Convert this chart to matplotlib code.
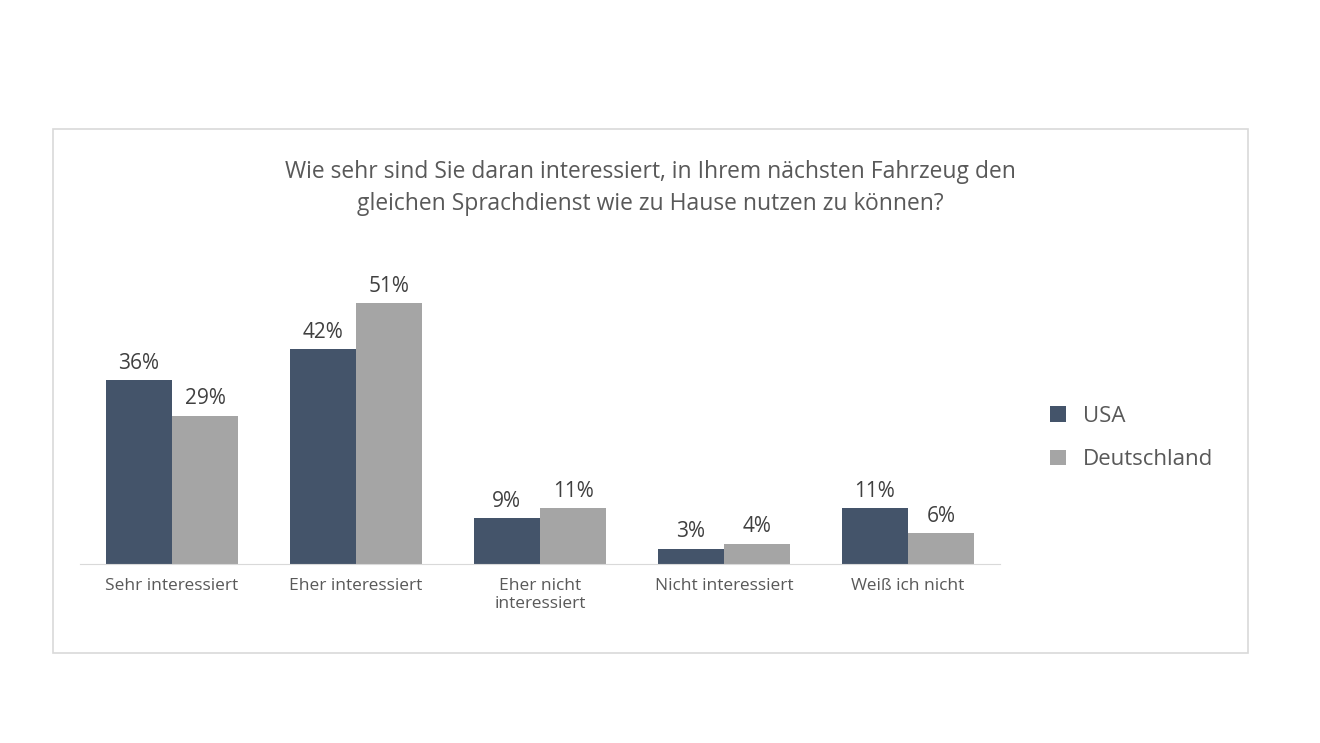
import matplotlib
matplotlib.use("Agg")
import matplotlib.pyplot as plt
from matplotlib.patches import Rectangle
import numpy as np

categories = ["Sehr interessiert", "Eher interessiert", "Eher nicht\ninteressiert", "Nicht interessiert", "Weiß ich nicht"]
usa = [36, 42, 9, 3, 11]
de = [29, 51, 11, 4, 6]
series = ["USA", "Deutschland"]
title = "Wie sehr sind Sie daran interessiert, in Ihrem nächsten Fahrzeug den\ngleichen Sprachdienst wie zu Hause nutzen zu können?"

plt.rcParams["font.family"] = "Open Sans"
fig = plt.figure(figsize=(13.2, 7.43), dpi=100)
fig.patches.append(Rectangle((53/1320, 1-653/743), 1195/1320, 524/743, transform=fig.transFigure,
                             fill=False, edgecolor="#D9D9D9", linewidth=1.2))
ax = fig.add_axes([80/1320, 1-564/743, 920/1320, 281.6/743])
x = np.arange(len(categories))
w = 0.36
c1, c2 = "#44546A", "#A5A5A5"
b1 = ax.bar(x - w/2, usa, w, color=c1, label=series[0])
b2 = ax.bar(x + w/2, de, w, color=c2, label=series[1])
for bars, vals in ((b1, usa), (b2, de)):
    for b, v in zip(bars, vals):
        ax.text(b.get_x()+b.get_width()/2, v+1.2, f"{v}%", ha="center", va="bottom", fontsize=15, color="#404040")
ax.set_xlim(-0.5, len(categories)-0.5)
ax.set_ylim(0, 55)
ax.set_yticks([])
for s in ["top", "right", "left"]:
    ax.spines[s].set_visible(False)
ax.spines["bottom"].set_color("#D9D9D9")
ax.set_xticks(x)
ax.set_xticklabels(categories, fontsize=12.5, color="#595959")
ax.tick_params(axis="x", length=0, pad=10)
fig.text(650/1320, 1-188/743, title, ha="center", va="center", fontsize=16.5, color="#595959", linespacing=1.5)
fig.legend(handles=[b1, b2], labels=series, loc="center left", bbox_to_anchor=(1030/1320, 1-438/743),
           frameon=False, fontsize=16, labelcolor="#595959", handlelength=0.7, handleheight=0.7, labelspacing=1.0)
fig.savefig("out.png", dpi=100, facecolor="white")
